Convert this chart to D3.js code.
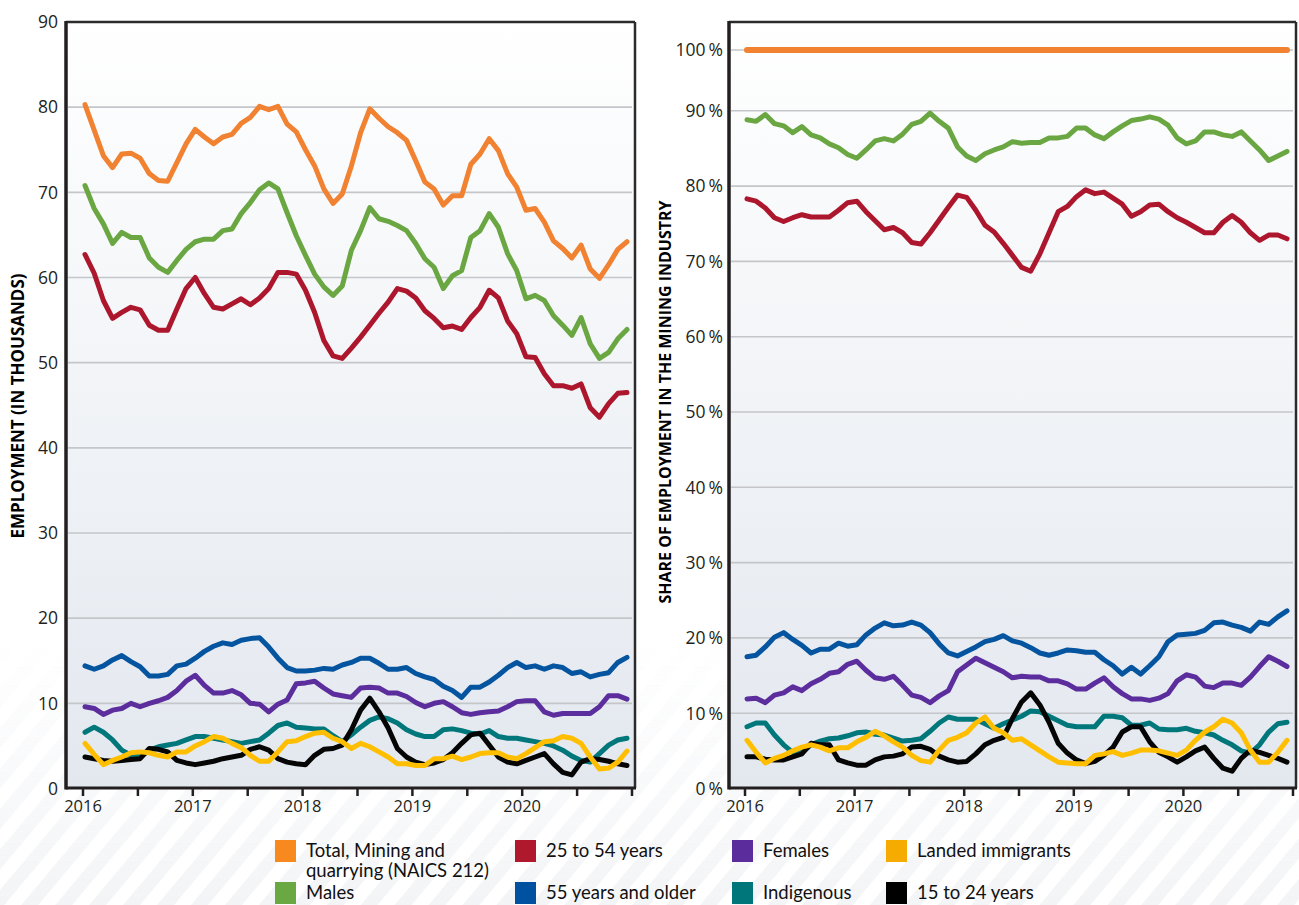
<!DOCTYPE html>
<html><head><meta charset="utf-8">
<script src="https://cdn.jsdelivr.net/npm/d3@7"></script>
<style>body{margin:0;background:#fff}svg{display:block}</style>
</head><body><svg id="c" width="1299" height="905"></svg>
<script>
// ---------- DATA ----------
const months = [];
for (let y = 2016; y <= 2020; y++) for (let m = 1; m <= 12; m++) months.push(y + "-" + String(m).padStart(2, "0"));
const yearLabels = ["2016", "", "2017", "", "2018", "", "2019", "", "2020", "", ""];
const leftTicks = [0, 10, 20, 30, 40, 50, 60, 70, 80, 90];
const rightTicks = [0, 10, 20, 30, 40, 50, 60, 70, 80, 90, 100];

// Employment (thousands)
const totalK = [80.3,77.3,74.3,72.9,74.5,74.6,74.0,72.2,71.4,71.3,73.5,75.7,77.4,76.5,75.7,76.5,76.8,78.1,78.8,80.1,79.7,80.1,78.0,77.1,75.0,73.1,70.4,68.7,69.8,73.1,77.0,79.8,78.7,77.7,77.0,76.1,73.7,71.2,70.4,68.5,69.6,69.6,73.3,74.5,76.3,74.9,72.2,70.6,67.9,68.1,66.5,64.3,63.4,62.3,63.8,61.0,59.9,61.5,63.3,64.2];
const malesK = [70.8,68.1,66.3,64.0,65.3,64.7,64.7,62.3,61.2,60.6,62.0,63.3,64.2,64.5,64.5,65.5,65.7,67.5,68.8,70.3,71.1,70.4,67.6,64.9,62.6,60.4,58.9,57.9,59.0,63.2,65.5,68.2,66.9,66.6,66.1,65.5,64.0,62.2,61.2,58.7,60.2,60.8,64.7,65.5,67.5,65.9,62.8,60.8,57.5,57.9,57.3,55.5,54.4,53.2,55.3,52.2,50.5,51.2,52.8,53.9];
const age25to54K = [62.7,60.5,57.3,55.2,55.9,56.5,56.2,54.4,53.8,53.8,56.3,58.7,60.0,58.1,56.5,56.3,56.9,57.5,56.8,57.6,58.7,60.6,60.6,60.4,58.5,55.9,52.6,50.8,50.5,51.7,53.0,54.4,55.8,57.1,58.7,58.4,57.6,56.1,55.2,54.1,54.3,53.9,55.3,56.5,58.5,57.6,54.9,53.4,50.7,50.6,48.7,47.3,47.3,47.0,47.5,44.7,43.6,45.2,46.4,46.5];
const age55K = [14.4,14.0,14.4,15.1,15.6,14.9,14.3,13.2,13.2,13.4,14.4,14.6,15.3,16.1,16.7,17.1,16.9,17.4,17.6,17.7,16.6,15.3,14.2,13.8,13.8,13.9,14.1,14.0,14.5,14.8,15.3,15.3,14.7,14.0,14.0,14.2,13.5,13.1,12.8,12.0,11.5,10.7,11.9,11.9,12.5,13.3,14.2,14.8,14.2,14.4,14.0,14.4,14.2,13.5,13.7,13.1,13.4,13.6,14.8,15.4];
const femalesK = [9.6,9.4,8.7,9.2,9.4,10.0,9.6,10.0,10.3,10.7,11.5,12.6,13.3,12.1,11.2,11.2,11.5,11.0,10.0,9.9,9.0,9.9,10.4,12.3,12.4,12.6,11.8,11.1,10.9,10.7,11.8,11.9,11.8,11.2,11.2,10.8,10.1,9.6,10.0,10.2,9.6,8.9,8.7,8.9,9.0,9.1,9.6,10.2,10.3,10.3,9.0,8.6,8.8,8.8,8.8,8.8,9.6,10.9,10.9,10.5];
const indigenousK = [6.6,7.2,6.6,5.7,4.5,3.9,3.7,4.5,4.9,5.1,5.3,5.7,6.1,6.1,5.9,5.7,5.5,5.3,5.5,5.7,6.5,7.4,7.7,7.2,7.1,7.0,7.0,6.2,5.5,6.3,7.2,8.0,8.4,8.2,7.7,6.9,6.4,6.1,6.1,6.9,7.0,6.8,6.5,6.4,6.8,6.1,5.9,5.9,5.7,5.5,5.3,5.0,4.5,3.8,3.3,3.1,4.1,5.1,5.7,5.9];
const immigrantsK = [5.3,4.0,2.8,3.3,3.7,4.2,4.3,4.2,3.9,3.7,4.3,4.3,5.0,5.5,6.1,5.9,5.3,4.8,3.9,3.2,3.2,4.3,5.5,5.6,6.1,6.5,6.6,5.9,5.5,4.7,5.3,4.9,4.3,3.7,2.9,2.9,2.7,2.7,3.5,3.5,3.8,3.4,3.7,4.1,4.2,4.2,3.7,3.5,4.1,4.8,5.5,5.6,6.1,5.9,5.3,3.7,2.3,2.4,3.1,4.4];
const age15to24K = [3.7,3.5,3.3,3.2,3.3,3.4,3.5,4.7,4.6,4.3,3.3,3.0,2.8,3.0,3.2,3.5,3.7,3.9,4.6,4.9,4.5,3.5,3.1,2.9,2.8,3.9,4.6,4.7,5.1,6.9,9.2,10.6,9.0,7.1,4.7,3.7,3.1,2.8,3.0,3.4,4.2,5.3,6.3,6.5,5.1,3.7,3.1,2.9,3.3,3.7,4.1,2.9,1.9,1.6,3.1,3.5,3.4,3.2,2.9,2.7];

// Share of employment in the mining industry (%)
const totalPct = [100,100,100,100,100,100,100,100,100,100,100,100,100,100,100,100,100,100,100,100,100,100,100,100,100,100,100,100,100,100,100,100,100,100,100,100,100,100,100,100,100,100,100,100,100,100,100,100,100,100,100,100,100,100,100,100,100,100,100,100];
const malesPct = [88.8,88.6,89.5,88.3,88.0,87.1,87.9,86.8,86.4,85.6,85.1,84.2,83.7,84.8,86.0,86.3,86.0,86.9,88.2,88.6,89.7,88.6,87.7,85.2,84.0,83.4,84.3,84.8,85.2,85.9,85.7,85.8,85.8,86.4,86.4,86.6,87.7,87.7,86.8,86.3,87.2,88.0,88.7,88.9,89.2,88.9,88.1,86.4,85.6,86.0,87.2,87.2,86.8,86.6,87.2,86.0,84.8,83.4,84.0,84.6];
const age25to54Pct = [78.3,78.0,77.1,75.8,75.3,75.8,76.2,75.9,75.9,75.9,76.8,77.8,78.0,76.6,75.4,74.2,74.5,73.8,72.5,72.3,73.8,75.5,77.2,78.8,78.5,76.8,74.8,73.9,72.4,70.8,69.2,68.7,71.0,73.8,76.6,77.3,78.6,79.5,79.0,79.2,78.4,77.6,76.0,76.6,77.5,77.6,76.6,75.8,75.2,74.5,73.8,73.8,75.2,76.1,75.2,73.8,72.8,73.5,73.5,73.0];
const age55Pct = [17.5,17.7,18.8,20.1,20.7,19.8,19.0,18.0,18.5,18.5,19.3,18.9,19.1,20.4,21.3,22.0,21.6,21.7,22.1,21.7,20.7,19.2,18.0,17.6,18.2,18.8,19.5,19.8,20.3,19.6,19.3,18.7,18.0,17.7,18.0,18.4,18.3,18.1,18.1,17.1,16.3,15.2,16.1,15.2,16.3,17.5,19.5,20.4,20.5,20.6,21.0,22.0,22.1,21.7,21.4,20.9,22.1,21.8,22.8,23.6];
const femalesPct = [11.9,12.0,11.4,12.4,12.7,13.5,13.0,13.9,14.5,15.3,15.5,16.5,16.9,15.7,14.7,14.5,14.9,13.7,12.4,12.1,11.4,12.3,13.0,15.5,16.4,17.3,16.7,16.1,15.5,14.7,14.9,14.8,14.8,14.3,14.3,13.9,13.2,13.2,14.0,14.7,13.5,12.6,11.9,11.9,11.7,12.0,12.6,14.3,15.1,14.8,13.6,13.4,14.0,14.0,13.7,14.8,16.2,17.5,16.9,16.2];
const indigenousPct = [8.2,8.7,8.7,7.1,5.8,4.8,4.8,5.8,6.3,6.6,6.7,7.0,7.4,7.5,7.2,7.1,6.7,6.3,6.4,6.6,7.6,8.7,9.5,9.2,9.2,9.2,8.6,8.0,8.6,9.1,9.6,10.3,10.2,9.6,9.0,8.4,8.2,8.2,8.2,9.6,9.6,9.4,8.4,8.4,8.7,7.9,7.8,7.8,8.0,7.6,7.4,7.1,6.4,5.8,5.0,4.7,5.8,7.5,8.6,8.8];
const immigrantsPct = [6.4,4.8,3.4,4.0,4.4,5.0,5.5,5.8,5.5,5.0,5.4,5.4,6.2,6.8,7.6,7.0,6.2,5.5,4.4,3.7,3.5,5.1,6.4,6.8,7.4,8.7,9.5,8.0,7.4,6.4,6.6,5.8,5.0,4.2,3.5,3.4,3.3,3.3,4.4,4.6,4.9,4.4,4.7,5.1,5.1,5.0,4.7,4.4,5.1,6.4,7.5,8.2,9.2,8.7,7.4,5.1,3.5,3.5,4.8,6.4];
const age15to24Pct = [4.2,4.2,3.9,3.8,3.8,4.2,4.6,6.0,5.8,5.8,3.8,3.4,3.1,3.1,3.8,4.2,4.3,4.6,5.5,5.6,5.2,4.3,3.8,3.5,3.6,4.6,5.8,6.4,6.8,9.3,11.5,12.7,11.1,8.8,6.0,4.7,3.8,3.3,3.6,4.4,5.5,7.5,8.2,8.2,6.2,4.8,4.2,3.5,4.2,5.0,5.5,4.0,2.7,2.3,4.0,5.1,4.8,4.4,4.0,3.5];

// ---------- STYLE ----------
const seriesStyle = [
  { key: "total", name: ["Total, Mining and", "quarrying (NAICS 212)"], line: "#f08232", sw: "#f7891f" },
  { key: "males", name: ["Males"], line: "#6aa742", sw: "#6aa843" },
  { key: "a2554", name: ["25 to 54 years"], line: "#ad172d", sw: "#b0182e" },
  { key: "a55", name: ["55 years and older"], line: "#05549f", sw: "#0052a0" },
  { key: "fem", name: ["Females"], line: "#5b2d9d", sw: "#5b2c9c" },
  { key: "ind", name: ["Indigenous"], line: "#00777b", sw: "#00767a" },
  { key: "y1524", name: ["15 to 24 years"], line: "#050505", sw: "#000000" },
  { key: "imm", name: ["Landed immigrants"], line: "#ffbf00", sw: "#f6ab00" }
];
const leftData = { total: totalK, males: malesK, a2554: age25to54K, a55: age55K, fem: femalesK, ind: indigenousK, y1524: age15to24K, imm: immigrantsK };
const rightData = { total: totalPct, males: malesPct, a2554: age25to54Pct, a55: age55Pct, fem: femalesPct, ind: indigenousPct, y1524: age15to24Pct, imm: immigrantsPct };

const svg = d3.select("#c");
const defs = svg.append("defs");
const grad = defs.append("linearGradient").attr("id", "bg").attr("x1", 0).attr("y1", 0).attr("x2", 0).attr("y2", 1);
grad.append("stop").attr("offset", "0%").attr("stop-color", "#ffffff");
grad.append("stop").attr("offset", "100%").attr("stop-color", "#e3e8ef");
const pat = defs.append("pattern").attr("id", "stripes").attr("patternUnits", "userSpaceOnUse")
  .attr("width", 26).attr("height", 26).attr("patternTransform", "rotate(40)");
pat.append("rect").attr("width", 13).attr("height", 26).attr("fill", "#eef0f3");
const fade = defs.append("linearGradient").attr("id", "fade").attr("x1", 0).attr("y1", 0).attr("x2", 0).attr("y2", 1);
fade.append("stop").attr("offset", "0%").attr("stop-color", "#fff").attr("stop-opacity", 0);
fade.append("stop").attr("offset", "100%").attr("stop-color", "#fff").attr("stop-opacity", 1);
const mask = defs.append("mask").attr("id", "fm");
mask.append("rect").attr("x", 0).attr("y", 640).attr("width", 1299).attr("height", 265).attr("fill", "url(#fade)");
svg.append("rect").attr("x", 0).attr("y", 640).attr("width", 1299).attr("height", 265)
  .attr("fill", "url(#stripes)").attr("mask", "url(#fm)").attr("opacity", 0.7);

const TXT = "#231f20";
const FONT = "'Open Sans', 'Noto Sans', sans-serif";

function panel(cfg) {
  const g = svg.append("g");
  const { L, R, T, B } = cfg;
  g.append("rect").attr("x", L).attr("y", T).attr("width", R - L).attr("height", B - T).attr("fill", "url(#bg)");
  const y = d3.scaleLinear().domain(cfg.yDomain).range(cfg.yRange);
  const x = d3.scaleLinear().domain([0, months.length - 1]).range(cfg.xData);
  const xt = d3.scaleLinear().domain([0, yearLabels.length - 1]).range(cfg.xTicks);

  // gridlines
  g.selectAll(".grid").data(cfg.yTicks.filter(v => v > 0 && y(v) > T + 3)).join("line")
    .attr("x1", L + 2).attr("x2", R - 3).attr("y1", d => y(d)).attr("y2", d => y(d))
    .attr("stroke", "#c4c6c9").attr("stroke-width", 1.6);

  // y tick labels
  g.selectAll(".yl").data(cfg.yTicks).join("text")
    .attr("x", cfg.yLabelX).attr("y", d => y(d)).attr("dy", "0.36em")
    .attr("text-anchor", "end").attr("font-family", FONT).attr("font-size", 17.5).attr("fill", TXT)
    .text(cfg.fmt);

  // lines
  const line = d3.line().x((d, i) => x(i)).y(d => y(d)).curve(d3.curveLinear);
  seriesStyle.forEach(s => {
    g.append("path").datum(cfg.data[s.key]).attr("d", line)
      .attr("fill", "none").attr("stroke", s.line).attr("stroke-width", s.key === "total" && cfg.wideTotal ? 6 : 5)
      .attr("stroke-linejoin", "round").attr("stroke-linecap", "round");
  });

  // frame
  g.append("line").attr("x1", L).attr("x2", R).attr("y1", T).attr("y2", T).attr("stroke", "#2b2b2b").attr("stroke-width", 2.5);
  g.append("line").attr("x1", R).attr("x2", R).attr("y1", T).attr("y2", B).attr("stroke", "#2b2b2b").attr("stroke-width", 2.5);
  g.append("line").attr("x1", L).attr("x2", L).attr("y1", T - 1).attr("y2", B + 1.5).attr("stroke", TXT).attr("stroke-width", 3.5);
  g.append("line").attr("x1", L).attr("x2", R + 1).attr("y1", B).attr("y2", B).attr("stroke", TXT).attr("stroke-width", 3);

  // x ticks
  g.selectAll(".xt").data(yearLabels).join("line")
    .attr("x1", (d, i) => xt(i)).attr("x2", (d, i) => xt(i)).attr("y1", B).attr("y2", B + 8)
    .attr("stroke", TXT).attr("stroke-width", 2.5);
  g.selectAll(".xl").data(yearLabels).join("text")
    .attr("x", (d, i) => xt(i)).attr("y", B + 24).attr("text-anchor", "middle")
    .attr("font-family", FONT).attr("font-size", 16.5).attr("fill", TXT).text(d => d);

  // y title
  g.append("text").attr("transform", `translate(${cfg.titleX},${cfg.titleY}) rotate(-90)`)
    .attr("text-anchor", "middle").attr("font-family", FONT).attr("font-weight", 700)
    .attr("font-size", cfg.titleSize).attr("fill", "#000").text(cfg.title);
}

panel({
  L: 66, R: 635, T: 22, B: 788,
  yDomain: [0, 90], yRange: [788.5, 22], yTicks: leftTicks,
  xData: [85, 627], xTicks: [83, 632],
  yLabelX: 58, fmt: d => d,
  data: leftData, title: "EMPLOYMENT (IN THOUSANDS)", titleX: 24, titleY: 406, titleSize: 17
});
panel({
  L: 729, R: 1296, T: 22, B: 788,
  yDomain: [0, 90, 100], yRange: [788.5, 110.8, 50], yTicks: rightTicks,
  xData: [747, 1287], xTicks: [745, 1293],
  yLabelX: 723, fmt: d => d + "\u2009%", wideTotal: true,
  data: rightData, title: "SHARE OF EMPLOYMENT IN THE MINING INDUSTRY", titleX: 671, titleY: 402, titleSize: 16
});

// legend
const legendPos = [
  { x: 275, y: 840 }, { x: 275, y: 882 }, { x: 515, y: 840 }, { x: 515, y: 882 },
  { x: 732, y: 840 }, { x: 732, y: 882 }, { x: 886, y: 882 }, { x: 886, y: 840 }
];
const lg = svg.append("g");
seriesStyle.forEach((s, i) => {
  const p = legendPos[i];
  lg.append("rect").attr("x", p.x).attr("y", p.y).attr("width", 21).attr("height", 22).attr("fill", s.sw);
  const t = lg.append("text").attr("x", p.x + 31).attr("y", p.y + 17)
    .attr("font-family", "Lato, 'Open Sans', sans-serif").attr("font-size", 18.5).attr("fill", "#111");
  s.name.forEach((ln, k) => t.append("tspan").attr("x", p.x + 31).attr("dy", k === 0 ? 0 : 20).text(ln));
});
</script></body></html>
